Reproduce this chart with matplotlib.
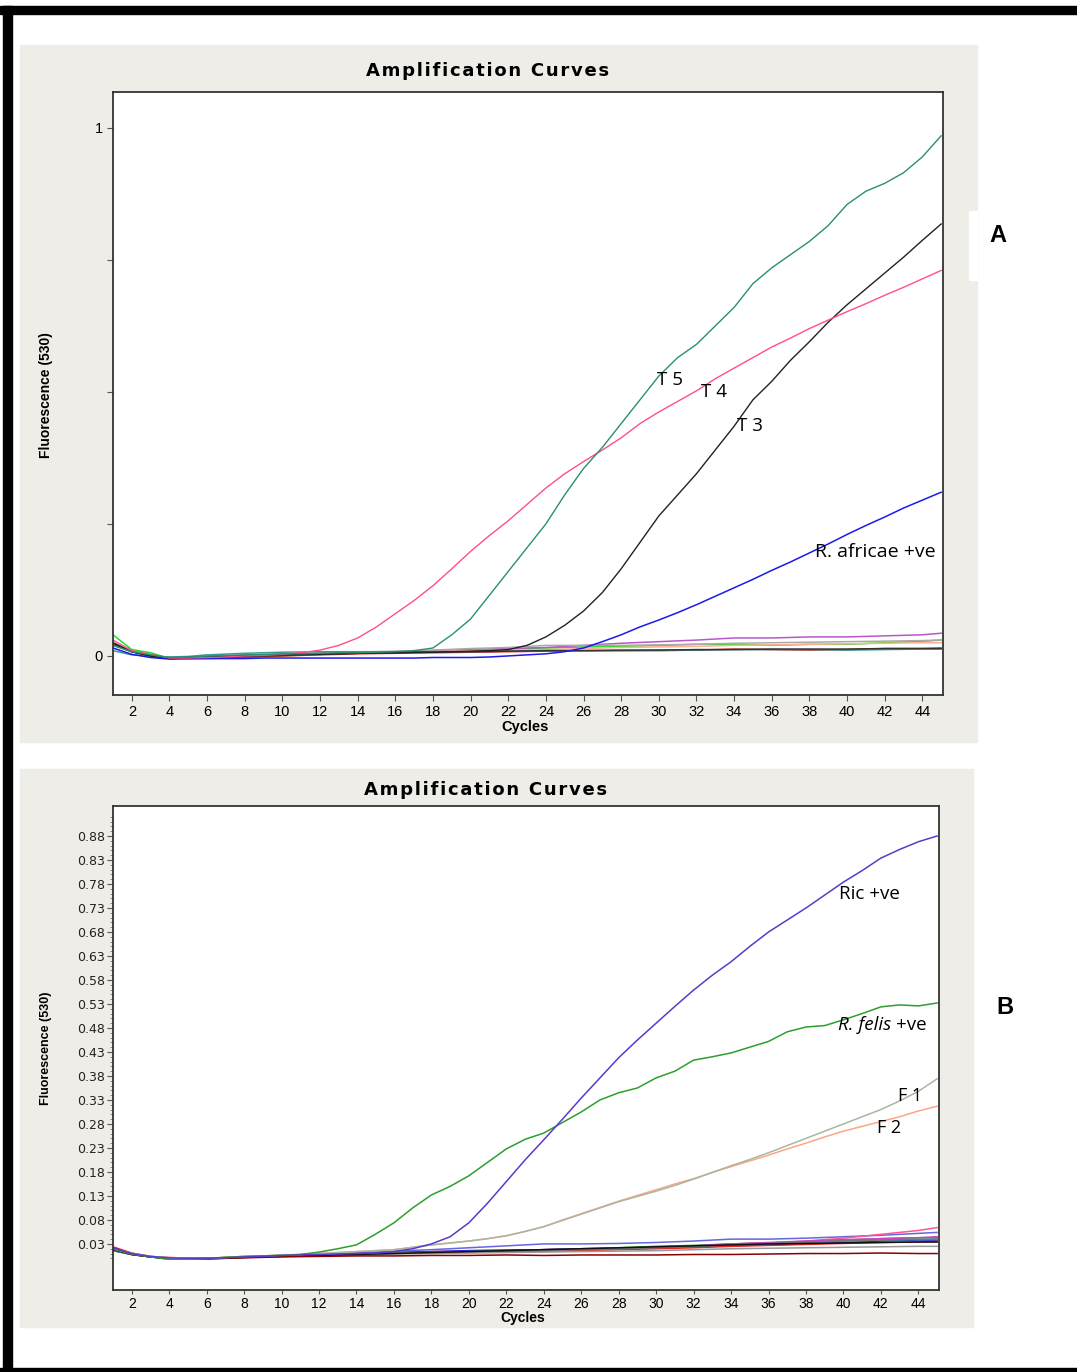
import matplotlib
matplotlib.use('Agg')
import matplotlib.pyplot as plt
from matplotlib.patches import Rectangle
import numpy as np

W, H = 1077, 1372

# ---------------- panel A data (cycles 1..45) ----------------
cyc = np.arange(1, 46)

t5 = [0.020, 0.008, 0.002, -0.003, -0.002, 0.000, 0.001, 0.002, 0.003, 0.004,
      0.004, 0.005, 0.006, 0.006, 0.007, 0.008, 0.010, 0.015, 0.040, 0.070,
      0.115, 0.160, 0.205, 0.250, 0.305, 0.355, 0.395, 0.440, 0.485, 0.530,
      0.565, 0.590, 0.625, 0.660, 0.705, 0.735, 0.760, 0.785, 0.815, 0.855,
      0.880, 0.895, 0.915, 0.945, 0.985]
t4 = [0.030, 0.010, 0.003, -0.004, -0.004, -0.003, -0.002, 0.000, 0.001, 0.003,
      0.006, 0.011, 0.020, 0.034, 0.055, 0.080, 0.105, 0.133, 0.165, 0.198,
      0.228, 0.256, 0.287, 0.318, 0.345, 0.368, 0.390, 0.413, 0.440, 0.462,
      0.482, 0.502, 0.525, 0.545, 0.565, 0.585, 0.602, 0.620, 0.636, 0.652,
      0.667, 0.683, 0.698, 0.714, 0.730]
t3 = [0.025, 0.008, 0.000, -0.004, -0.003, -0.002, 0.000, 0.001, 0.002, 0.003,
      0.003, 0.004, 0.004, 0.005, 0.006, 0.006, 0.007, 0.007, 0.008, 0.009,
      0.010, 0.012, 0.020, 0.036, 0.058, 0.085, 0.120, 0.165, 0.215, 0.265,
      0.305, 0.345, 0.390, 0.435, 0.485, 0.520, 0.560, 0.595, 0.632, 0.665,
      0.695, 0.725, 0.755, 0.787, 0.818]
africae = [0.015, 0.003, -0.003, -0.006, -0.005, -0.005, -0.005, -0.005, -0.004, -0.004,
           -0.004, -0.004, -0.004, -0.004, -0.004, -0.004, -0.004, -0.003, -0.003, -0.003,
           -0.002, 0.000, 0.002, 0.004, 0.008, 0.015, 0.027, 0.040, 0.055, 0.068,
           0.082, 0.097, 0.113, 0.129, 0.145, 0.162, 0.178, 0.195, 0.212, 0.230,
           0.247, 0.263, 0.280, 0.295, 0.310]

# negative / low samples, read at these cycles
bl_cyc = [1, 2, 3, 4, 5, 6, 8, 10, 12, 14, 16, 18, 20, 22, 24, 26, 28, 30, 32, 34, 36, 38, 40, 42, 44, 45]
a_base = {
    '#22dd22': [0.040, 0.012, 0.006, -0.005, -0.006, -0.005, -0.003, 0.000, 0.003, 0.005, 0.007, 0.010, 0.012,
                0.013, 0.015, 0.017, 0.018, 0.020, 0.022, 0.022, 0.020, 0.022, 0.022, 0.025, 0.028, 0.030],
    '#bb55cc': [0.020, 0.008, 0.000, -0.004, -0.003, -0.002, 0.000, 0.003, 0.005, 0.007, 0.008, 0.010, 0.012,
                0.014, 0.016, 0.020, 0.024, 0.027, 0.030, 0.034, 0.034, 0.036, 0.036, 0.038, 0.040, 0.043],
    '#aaaaaa': [0.025, 0.009, 0.001, -0.003, -0.003, -0.002, 0.000, 0.003, 0.005, 0.007, 0.009, 0.011, 0.014,
                0.016, 0.020, 0.020, 0.020, 0.021, 0.022, 0.024, 0.025, 0.026, 0.027, 0.028, 0.029, 0.030],
    '#ffb090': [0.022, 0.008, 0.000, -0.004, -0.004, -0.003, -0.001, 0.002, 0.004, 0.006, 0.007, 0.008, 0.010,
                0.011, 0.012, 0.014, 0.016, 0.017, 0.018, 0.020, 0.021, 0.022, 0.023, 0.024, 0.025, 0.025],
    '#ee2222': [0.022, 0.008, 0.000, -0.004, -0.004, -0.003, -0.002, 0.000, 0.002, 0.004, 0.005, 0.006, 0.007,
                0.008, 0.009, 0.010, 0.010, 0.010, 0.011, 0.013, 0.012, 0.011, 0.012, 0.014, 0.014, 0.015],
    '#3a9a9a': [0.010, 0.002, 0.000, -0.002, -0.001, 0.002, 0.005, 0.007, 0.008, 0.008, 0.008, 0.008, 0.008,
                0.009, 0.010, 0.010, 0.010, 0.011, 0.011, 0.012, 0.012, 0.012, 0.011, 0.012, 0.013, 0.013],
    '#333333': [0.024, 0.008, 0.000, -0.005, -0.004, -0.003, -0.001, 0.001, 0.003, 0.005, 0.006, 0.007, 0.008,
                0.009, 0.010, 0.010, 0.011, 0.011, 0.012, 0.012, 0.013, 0.013, 0.013, 0.014, 0.014, 0.014],
}

# ---------------- panel B data (cycles 1..45) ----------------
ric = [0.022, 0.010, 0.004, 0.001, 0.000, 0.000, 0.001, 0.003, 0.004, 0.006,
       0.007, 0.008, 0.009, 0.010, 0.011, 0.014, 0.020, 0.030, 0.045, 0.074,
       0.115, 0.160, 0.205, 0.247, 0.290, 0.334, 0.376, 0.418, 0.455, 0.490,
       0.525, 0.559, 0.590, 0.618, 0.650, 0.680, 0.705, 0.730, 0.757, 0.784,
       0.808, 0.834, 0.852, 0.868, 0.880]
felis = [0.020, 0.009, 0.003, -0.002, -0.001, 0.000, 0.002, 0.004, 0.005, 0.006,
         0.008, 0.013, 0.020, 0.028, 0.050, 0.074, 0.105, 0.132, 0.150, 0.172,
         0.200, 0.228, 0.248, 0.261, 0.283, 0.305, 0.330, 0.345, 0.355, 0.376,
         0.390, 0.413, 0.420, 0.428, 0.440, 0.452, 0.472, 0.482, 0.485, 0.497,
         0.510, 0.524, 0.528, 0.526, 0.532]
f1 = [0.020, 0.010, 0.004, 0.001, 0.000, 0.000, 0.002, 0.004, 0.005, 0.007,
      0.008, 0.010, 0.012, 0.014, 0.016, 0.018, 0.023, 0.028, 0.032, 0.036,
      0.041, 0.047, 0.056, 0.066, 0.079, 0.092, 0.105, 0.118, 0.129, 0.140,
      0.152, 0.165, 0.179, 0.193, 0.206, 0.220, 0.235, 0.250, 0.265, 0.280,
      0.295, 0.310, 0.328, 0.348, 0.374]
f2 = [0.020, 0.010, 0.004, 0.001, 0.000, 0.000, 0.002, 0.004, 0.005, 0.007,
      0.008, 0.010, 0.012, 0.014, 0.016, 0.018, 0.023, 0.028, 0.032, 0.036,
      0.041, 0.047, 0.056, 0.066, 0.080, 0.093, 0.106, 0.119, 0.131, 0.143,
      0.155, 0.166, 0.179, 0.191, 0.203, 0.215, 0.228, 0.240, 0.253, 0.265,
      0.275, 0.285, 0.295, 0.307, 0.317]

b_base = {
    '#6666dd': [0.020, 0.009, 0.003, 0.000, 0.000, 0.000, 0.003, 0.006, 0.009, 0.012, 0.015, 0.018, 0.022,
                0.026, 0.030, 0.030, 0.031, 0.033, 0.036, 0.040, 0.040, 0.042, 0.045, 0.048, 0.052, 0.054],
    '#ff5599': [0.018, 0.008, 0.003, 0.002, 0.000, -0.002, 0.002, 0.005, 0.008, 0.010, 0.012, 0.014, 0.016,
                0.017, 0.018, 0.019, 0.021, 0.022, 0.024, 0.030, 0.032, 0.036, 0.042, 0.050, 0.058, 0.064],
    '#11aa11': [0.020, 0.009, 0.003, -0.002, -0.001, 0.000, 0.003, 0.005, 0.007, 0.009, 0.011, 0.013, 0.015,
                0.016, 0.018, 0.020, 0.022, 0.025, 0.027, 0.030, 0.032, 0.035, 0.038, 0.041, 0.043, 0.043],
    '#cc44cc': [0.018, 0.008, 0.003, 0.000, 0.000, 0.000, 0.003, 0.005, 0.007, 0.009, 0.011, 0.013, 0.014,
                0.016, 0.018, 0.020, 0.021, 0.023, 0.026, 0.030, 0.033, 0.036, 0.039, 0.041, 0.043, 0.045],
    '#2222dd': [0.016, 0.008, 0.003, 0.000, 0.000, 0.000, 0.003, 0.006, 0.008, 0.010, 0.012, 0.014, 0.016,
                0.017, 0.018, 0.019, 0.021, 0.022, 0.024, 0.026, 0.028, 0.030, 0.033, 0.036, 0.038, 0.038],
    '#339999': [0.016, 0.008, 0.003, 0.000, 0.000, 0.000, 0.002, 0.005, 0.007, 0.009, 0.011, 0.012, 0.014,
                0.015, 0.016, 0.018, 0.020, 0.022, 0.024, 0.027, 0.030, 0.033, 0.036, 0.038, 0.039, 0.040],
    '#ee2222': [0.024, 0.011, 0.004, 0.001, 0.000, -0.001, 0.002, 0.005, 0.006, 0.008, 0.010, 0.012, 0.013,
                0.014, 0.015, 0.016, 0.018, 0.020, 0.022, 0.025, 0.027, 0.029, 0.031, 0.033, 0.034, 0.035],
    '#777777': [0.020, 0.009, 0.003, 0.000, 0.000, 0.000, 0.002, 0.005, 0.007, 0.009, 0.011, 0.012, 0.014,
                0.015, 0.016, 0.018, 0.020, 0.022, 0.025, 0.028, 0.031, 0.034, 0.036, 0.038, 0.040, 0.040],
    '#999999': [0.018, 0.008, 0.003, 0.000, 0.000, 0.000, 0.002, 0.004, 0.006, 0.007, 0.009, 0.010, 0.011,
                0.012, 0.013, 0.014, 0.015, 0.016, 0.018, 0.020, 0.021, 0.022, 0.023, 0.024, 0.025, 0.025],
    '#111111': [0.018, 0.008, 0.003, 0.000, 0.000, 0.000, 0.002, 0.004, 0.006, 0.008, 0.010, 0.012, 0.014,
                0.016, 0.018, 0.020, 0.022, 0.024, 0.026, 0.028, 0.030, 0.031, 0.032, 0.033, 0.034, 0.034],
    '#8b0000': [0.020, 0.009, 0.003, 0.000, 0.000, -0.001, 0.001, 0.003, 0.004, 0.005, 0.005, 0.006, 0.006,
                0.007, 0.006, 0.007, 0.007, 0.007, 0.008, 0.008, 0.009, 0.010, 0.010, 0.011, 0.010, 0.010],
}

xticks = list(range(2, 45, 2))
b_yticks = [0.03, 0.08, 0.13, 0.18, 0.23, 0.28, 0.33, 0.38, 0.43, 0.48,
            0.53, 0.58, 0.63, 0.68, 0.73, 0.78, 0.83, 0.88]


def fx(x):
    return x / W


def fy(y):
    return 1 - y / H


def rect(x0, y0, x1, y1, color):
    fig.patches.append(Rectangle((fx(x0), fy(y1)), fx(x1) - fx(x0), (y1 - y0) / H,
                                 transform=fig.transFigure, color=color, zorder=-10))


def spaced(s):
    # wide letter spacing of the instrument software title
    return '\u200a'.join(s)


fig = plt.figure(figsize=(W / 100, H / 100), dpi=100)
fig.patch.set_facecolor('white')

# outer frame (top, left, bottom)
rect(0, 6, W, 14, 'black')
rect(3, 6, 12, H, 'black')
rect(0, 1368, W, H, 'black')

bg = '#eeede7'
rect(20, 45, 977, 742, bg)
rect(20, 769, 973, 1327, bg)
rect(969, 211, 977, 280, 'white')

narrow = ['Liberation Sans', 'DejaVu Sans']
lab_font = ['Open Sans', 'DejaVu Sans']


def style(ax):
    ax.set_zorder(5)
    for s in ax.spines.values():
        s.set_color('#333333')
        s.set_linewidth(1.3)
    ax.set_xlim(1, 45.1)
    ax.set_xticks(xticks)
    ax.tick_params(direction='out', length=4, width=0.8, color='#555555')
    for t in ax.get_xticklabels():
        t.set_family(narrow)
        t.set_fontsize(10.5)


# ---------------- panel A ----------------
axA = fig.add_axes([fx(113), fy(695), fx(943) - fx(113), (695 - 92) / H])
style(axA)
for c, v in a_base.items():
    axA.plot(bl_cyc, v, color=c, lw=1.1)
axA.plot(cyc, africae, color='#1a1aee', lw=1.1)
axA.plot(cyc, t3, color='#222222', lw=1.0)
axA.plot(cyc, t4, color='#ff4f86', lw=1.0)
axA.plot(cyc, t5, color='#2a8f6f', lw=1.0)
axA.set_ylim(-0.074, 1.068)
axA.set_yticks([0, 0.25, 0.5, 0.75, 1])
axA.set_yticklabels(['0', '', '', '', '1'], family=narrow, fontsize=10.5)

axA.text(29.9, 0.523, 'T 5', fontsize=13.5, family=lab_font, va='center')
axA.text(32.25, 0.50, 'T 4', fontsize=13.5, family=lab_font, va='center')
axA.text(34.16, 0.436, 'T 3', fontsize=13.5, family=lab_font, va='center')
axA.text(38.3, 0.197, 'R. africae +ve', fontsize=14, family=lab_font, va='center')

fig.text(fx(488), fy(71), spaced('Amplification Curves'), ha='center', va='center',
         fontsize=13, fontweight='bold', family='DejaVu Sans')
fig.text(fx(525), fy(727), 'Cycles', ha='center', va='center',
         fontsize=10.5, fontweight='bold', family=narrow)
fig.text(fx(46), fy(395), 'Fluorescence (530)', ha='center', va='center', rotation=90,
         fontsize=10, fontweight='bold', family=narrow)
fig.text(fx(998), fy(236), 'A', ha='center', va='center', fontsize=17,
         fontweight='bold', family='Liberation Sans')

# ---------------- panel B ----------------
axB = fig.add_axes([fx(113), fy(1290), fx(939) - fx(113), (1290 - 806) / H])
style(axB)
axB.tick_params(axis='x', length=3, pad=2)
for t in axB.get_xticklabels():
    t.set_fontsize(10)
for c, v in b_base.items():
    axB.plot(bl_cyc, v, color=c, lw=1.1)
axB.plot(cyc, f2, color='#ffa585', lw=1.1)
axB.plot(cyc, f1, color='#a8b8a0', lw=1.1)
axB.plot(cyc, felis, color='#2e9e2e', lw=1.1)
axB.plot(cyc, ric, color='#5a3acc', lw=1.1)
axB.set_ylim(-0.066, 0.9425)
axB.set_yticks(b_yticks)
axB.set_yticklabels(['%.2f' % v for v in b_yticks], family='DejaVu Sans', fontsize=9,
                    color='#222222')
axB.set_yticks(np.arange(0.0, 0.93, 0.01), minor=True)
axB.tick_params(axis='y', which='minor', length=2.5, width=0.6, color='#777777')
axB.tick_params(axis='y', which='major', pad=2)

axB.text(39.78, 0.759, 'Ric +ve', fontsize=13.5, family=lab_font, va='center')
felis_txt = axB.text(39.73, 0.486, 'R. felis', fontsize=13.5, family=lab_font,
                     style='italic', va='center')
axB.annotate('+ve', xy=(1, 0.5), xycoords=felis_txt, xytext=(3, 0),
             textcoords='offset points', va='center', fontsize=13.5, family=lab_font)
axB.text(42.93, 0.338, 'F 1', fontsize=13, family=lab_font, va='center')
axB.text(41.8, 0.272, 'F 2', fontsize=13, family=lab_font, va='center')

fig.text(fx(486), fy(790), spaced('Amplification Curves'), ha='center', va='center',
         fontsize=13, fontweight='bold', family='DejaVu Sans')
fig.text(fx(523), fy(1318), 'Cycles', ha='center', va='center',
         fontsize=10, fontweight='bold', family=narrow)
fig.text(fx(46), fy(1048), 'Fluorescence (530)', ha='center', va='center', rotation=90,
         fontsize=9, fontweight='bold', family=narrow)
fig.text(fx(1005), fy(1008), 'B', ha='center', va='center', fontsize=17,
         fontweight='bold', family='Liberation Sans')

fig.savefig('out.png', dpi=100)
